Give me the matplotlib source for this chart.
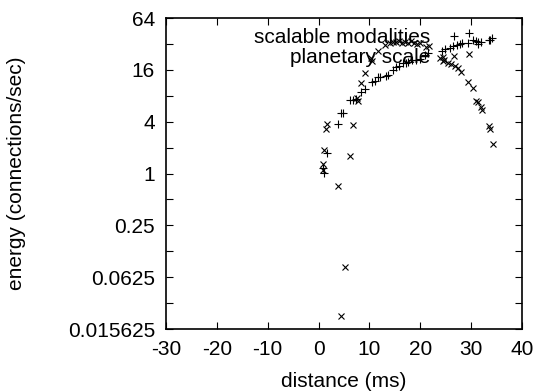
import matplotlib
matplotlib.use('Agg')
import matplotlib.pyplot as plt

plt.rcParams['font.family'] = ['Liberation Sans', 'DejaVu Sans']

# series 1: "+" points
plus_x = [0.9, 1.0, 1.7, 3.85, 4.5, 4.8, 6.15, 6.8, 7.4, 8.4, 9.1, 10.6, 11.2,
          11.7, 12.0, 13.3, 13.7, 14.7, 15.3, 15.8, 16.6, 17.3, 17.6, 18.3,
          19.2, 19.9, 20.9, 21.5, 24.2, 24.8, 25.8, 26.4, 27.2, 27.8, 28.3,
          29.4, 29.6, 30.4, 30.9, 31.4, 31.4, 32.0, 33.5, 33.8, 34.2]
plus_y = [1.15, 1.02, 1.74, 3.8, 5.1, 5.1, 7.1, 7.1, 7.3, 8.9, 9.5, 11.6, 11.8,
          13.3, 13.3, 13.6, 13.9, 16.0, 17.2, 17.8, 19.0, 19.3, 19.8, 20.8,
          20.8, 21.2, 23.8, 25.0, 26.7, 27.7, 29.0, 30.0, 31.0, 32.0, 32.5,
          32.4, 42.5, 36.0, 35.0, 34.0, 32.0, 34.0, 35.5, 36.0, 37.5]

# series 2: "x" points
cross_x = [0.9, 0.95, 1.04, 1.57, 1.43, 3.85, 4.4, 5.17, 6.15, 6.8, 7.6, 7.8,
           8.4, 9.1, 10.3, 10.5, 11.7, 13.0, 14.0, 14.6, 15.2, 15.8, 16.4,
           17.0, 17.6, 18.2, 18.8, 19.4, 20.0, 21.2, 21.7, 23.8, 24.4, 24.6,
           24.5, 25.5, 26.1, 26.8, 27.4, 28.1, 29.4, 29.6, 30.3, 31.0, 31.4,
           32.0, 32.2, 33.5, 33.8, 34.4]
cross_y = [1.3, 1.1, 1.9, 3.8, 3.3, 0.72, 0.022, 0.081, 1.6, 3.65, 7.5, 6.9,
           11.2, 14.6, 21.7, 20.5, 26.7, 31.0, 33.0, 34.0, 33.5, 34.5, 33.0,
           34.0, 33.0, 34.5, 33.0, 32.0, 33.0, 29.6, 30.0, 22.2, 22.6, 21.0,
           20.3, 19.0, 18.5, 17.9, 16.7, 15.2, 11.5, 24.4, 9.8, 7.0, 6.8,
           5.9, 5.5, 3.6, 3.3, 2.2]

xticks = [-30, -20, -10, 0, 10, 20, 30, 40]
yticks = [2.0 ** k for k in range(-6, 7)]
ylabels = ['0.015625', '', '0.0625', '', '0.25', '', '1', '', '4', '', '16', '', '64']

fig = plt.figure(figsize=(5.38, 3.92), dpi=100)
ax = fig.add_axes([0.3086, 0.1607, 0.6614, 0.7933])

ax.plot(plus_x, plus_y, linestyle='none', marker='+', color='black',
        markersize=6, markeredgewidth=0.8, label='scalable modalities')
ax.plot(cross_x, cross_y, linestyle='none', marker='x', color='black',
        markersize=5, markeredgewidth=0.8, label='planetary scale')

ax.set_yscale('log', base=2)
ax.set_xlim(-30, 40)
ax.set_ylim(0.015625, 64)
ax.set_xticks(xticks)
ax.set_xticklabels([str(t) for t in xticks])
ax.set_yticks(yticks)
ax.set_yticklabels(ylabels)
ax.minorticks_off()
ax.tick_params(direction='in', length=5, width=0.8, top=True, right=True,
               labelsize=15, pad=8)
for s in ax.spines.values():
    s.set_linewidth(1.2)

ax.set_xlabel('distance (ms)', fontsize=15, labelpad=9)
ax.set_ylabel('energy (connections/sec)', fontsize=15, labelpad=30)

ax.legend(loc='upper right', bbox_to_anchor=(0.895, 1.015), frameon=False,
          markerfirst=False, fontsize=15, handlelength=1.5,
          handletextpad=0.4, labelspacing=0.05, borderpad=0.2)

plt.savefig('out.png', dpi=100)
